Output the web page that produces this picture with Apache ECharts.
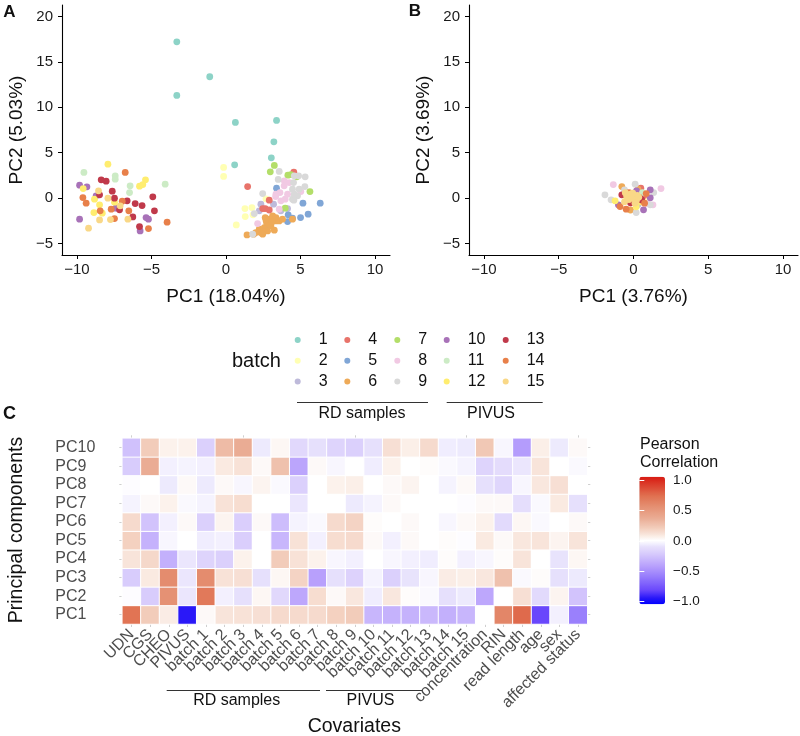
<!DOCTYPE html>
<html><head><meta charset="utf-8">
<script src="https://cdn.jsdelivr.net/npm/echarts@6/dist/echarts.min.js"></script>
<style>html,body{margin:0;padding:0;background:#fff}#c{width:800px;height:736px}</style>
</head><body><div id="c"></div>
<script>
// ---------- DATA ----------
const batches = ['1','2','3','4','5','6','7','8','9','10','11','12','13','14','15'];
const batchColors = ['#8DD3C7','#FFFFB3','#BEBADA','#E8736A','#80A6D6','#EEAA58','#B3DE69','#F1C9E3','#D9D9D9','#A872B8','#CCEBC5','#FFED6F','#C0394A','#E8804A','#F9D887'];
const xTickVals = [-10,-5,0,5,10];
const yTickVals = [-5,0,5,10,15,20];
// [PC1, PC2, batch]
const pcaA = [
 [-3.3,17.2,1],[-1.09,13.36,1],[-3.3,11.3,1],[0.63,8.33,1],[3.39,8.55,1],[3.21,6.2,1],[3.04,4.44,1],[0.58,3.67,1],
 [-0.16,3.38,2],[-0.16,2.39,2],[1.27,-1.14,2],[1.74,-1.03,2],[1.29,-2.02,2],[1.81,-1.83,2],[0.69,-2.94,2],[2.68,-0.07,2],
 [2.34,-0.66,3],[3.19,-0.66,3],[2.23,-1.39,3],[4.13,-1.14,3],[3.68,-1.39,3],[2.63,-3.23,3],
 [1.45,1.28,4],[4.55,2.86,4],[2.9,-0.22,4],[2.46,-1.14,4],[2.63,-1.14,4],[2.9,-1.3,4],
 [6.32,-0.55,5],[5.16,-0.55,5],[5.51,-1.76,5],[5.0,-2.13,5],[4.13,-2.57,5],[3.39,1.1,5],[4.46,-2.2,5],[4.17,-1.83,5],[2.68,-3.3,5],
 [1.41,-4.04,6],[1.85,-3.96,6],[2.32,-3.78,6],[2.57,-3.23,6],[2.72,-2.68,6],[2.9,-2.31,6],[3.13,-1.94,6],[3.35,-2.5,6],[3.57,-2.5,6],[3.24,-3.52,6],[3.79,-2.31,6],[2.63,-2.13,6],[2.23,-3.41,6],[2.79,-3.6,6],[3.01,-3.05,6],[2.5,-3.67,6],[2.0,-3.78,6],[2.46,-3.96,6],[3.35,-2.13,6],[2.9,-2.86,6],[4.46,-2.31,6],[2.68,-2.39,6],[3.1,-2.6,6],
 [3.24,3.6,7],[2.97,2.9,7],[4.15,2.53,7],[4.75,2.35,7],[5.63,0.73,7],[3.97,-1.1,7],[4.35,2.6,7],
 [3.91,1.91,8],[3.62,0.62,8],[3.35,0.44,8],[3.97,-0.11,8],[4.13,0.44,8],[3.68,-0.29,8],[4.24,1.72,8],[2.12,-2.79,8],[3.57,-1.21,8],[5.02,0.73,8],[3.9,1.36,8],[3.33,0.18,8],
 [3.57,2.94,9],[3.5,2.06,9],[2.46,0.51,9],[4.58,2.46,9],[4.87,2.46,9],[5.31,2.35,9],[5.29,1.28,9],[4.46,0.99,9],[4.58,0.44,9],[4.46,-0.11,9],[4.8,0.26,9],[4.55,-0.22,9],[1.9,-1.69,9],[1.79,-3.96,9],[4.53,1.72,9],[4.91,0.99,9],
 [-9.82,1.43,10],[-9.33,1.25,10],[-9.82,-2.31,10],[-8.71,0.26,10],[-5.36,-2.13,10],[-5.2,-2.31,10],[-5.76,-3.6,10],[-7.4,-1.1,10],
 [-9.53,2.83,11],[-7.43,2.46,11],[-7.43,2.09,11],[-6.43,1.36,11],[-4.08,1.54,11],[-6.47,0.62,11],
 [-7.92,3.74,12],[-9.58,1.06,12],[-8.82,-0.11,12],[-8.48,-0.73,12],[-8.86,-1.58,12],[-7.48,-0.44,12],[-5.8,1.32,12],[-5.58,1.5,12],[-5.4,2.02,12],[-8.3,-1.65,12],
 [-8.37,2.02,13],[-8.04,1.87,13],[-7.63,0.77,13],[-7.48,0.0,13],[-8.48,0.37,13],[-6.63,-0.29,13],[-6.09,-0.59,13],[-5.63,-0.81,13],[-4.91,0.15,13],[-4.8,-1.39,13],[-5.8,-3.12,13],[-6.25,-2.06,13],[-7.14,-1.28,13],
 [-9.6,0.07,14],[-9.38,-0.55,14],[-8.44,-1.39,14],[-7.48,-2.24,14],[-6.96,-0.33,14],[-7.7,-1.21,14],[-6.52,-1.39,14],[-5.2,-3.34,14],[-3.95,-2.64,14],[-6.76,2.83,14],
 [-9.22,-3.3,15],[-8.48,-2.39,15],[-7.75,-2.35,15],[-6.58,-2.31,15],[-8.55,0.81,15],[-7.92,0.0,15],[-7.1,-0.84,15]
];
const pcaB = [
 [-1.35,1.5,8],[1.84,1.06,8],[1.3,-0.73,8],[0.9,-0.6,8],
 [0.11,1.54,9],[-1.91,0.37,9],[-1.5,-0.18,9],[0.18,-1.58,9],[1.35,0.62,9],[1.12,-0.73,9],[-0.6,0.9,9],
 [-0.78,1.28,6],[-0.2,-1.3,6],[0.3,1.0,6],
 [0.49,1.1,4],[0.7,0.3,4],
 [1.12,0.92,10],[1.12,0.04,10],[0.67,-1.28,10],[-1.01,-0.73,10],[0.2,0.8,10],
 [0.85,0.51,14],[0.74,-0.55,14],[-0.9,-0.92,14],[-0.49,-1.21,14],[-0.3,0.6,14],
 [0.18,-0.95,12],[-1.23,-0.29,12],[0.5,-0.4,12],
 [0.4,0.07,13],[-0.78,0.37,13],[0.55,-0.2,13],[-0.2,-0.5,13],
 [-0.5,0.1,2],[0.9,-0.2,2],
 [-0.3,0.3,3],[0.3,-0.7,3],
 [-0.1,-0.3,11],[0.6,0.6,11],
 [-0.45,0.2,15],[-0.2,0.45,15],[0.0,0.05,15],[0.25,0.3,15],[-0.3,-0.15,15],[0.2,-0.2,15],[-0.05,0.55,15],[0.35,0.1,15],[-0.6,-0.4,15],[0.1,-0.55,15],[-0.55,0.6,15]
];
const covariates = ['UDN','CGS','CHEO','PIVUS','batch 1','batch 2','batch 3','batch 4','batch 5','batch 6','batch 7','batch 8','batch 9','batch 10','batch 11','batch 12','batch 13','batch 14','batch 15','concentration','RIN','read length','age','sex','affected status'];
const pcs = ['PC1','PC2','PC3','PC4','PC5','PC6','PC7','PC8','PC9','PC10'];
const pc1  = [0.68,0.2,0.07,-0.9,0.02,0.1,0.11,0.12,0.14,0.14,0.14,0.18,0.2,-0.3,-0.32,-0.32,-0.29,-0.33,-0.3,0,0.58,0.72,-0.78,-0.05,-0.55];
const pc2  = [-0.01,-0.2,0.52,-0.08,0.65,-0.05,-0.1,0.03,-0.14,-0.37,0.13,0.02,0.09,-0.06,0.09,0.01,-0.02,-0.1,-0.07,-0.37,0,0.12,-0.13,0.04,-0.24];
const pc3  = [-0.2,0.08,0.55,-0.08,0.55,0.11,0.12,-0.1,0.03,0.17,-0.4,-0.1,-0.17,-0.04,-0.18,-0.09,-0.03,0.07,0.06,0.09,0.25,-0.02,0.01,-0.1,-0.07];
const pc4  = [0.1,0.15,-0.33,-0.08,-0.16,-0.18,0.05,0,0.2,0.11,0.05,-0.03,-0.05,0,-0.03,-0.05,-0.06,0.01,-0.05,-0.03,0.01,0.1,0,-0.09,0.03];
const pc5  = [0.18,-0.32,-0.03,0,-0.06,-0.05,-0.19,0,-0.3,0.11,-0.05,0.13,0.14,0.02,-0.05,0.02,0,0.01,-0.01,0.08,0.02,0.09,0.1,0.04,0.1];
const pc6  = [0.14,-0.24,-0.05,0.02,-0.18,0.04,-0.19,0.02,-0.27,-0.04,-0.02,0.14,0.17,0.01,0,0.02,0,-0.03,0.02,0.05,-0.13,0.03,-0.02,0,0.02];
const pc7  = [-0.04,0.02,0.05,-0.02,-0.04,0.11,0.13,0,0,-0.08,0,0,-0.07,-0.04,0.02,0,0,0,-0.01,0.02,0.02,-0.11,-0.02,0.08,-0.1];
const pc8  = [-0.01,0,-0.07,0.02,-0.07,0.02,-0.03,0.04,-0.02,-0.18,0,0.05,0.06,0,0.02,0.04,0,-0.04,0.02,-0.1,-0.15,-0.03,0.09,0.12,0];
const pc9  = [-0.2,0.35,-0.05,-0.04,-0.05,0.08,0.11,0.02,0.25,-0.38,0.02,-0.03,0,-0.06,0.05,0,0.01,-0.02,-0.04,-0.16,-0.12,-0.08,0.1,0,-0.02];
const pc10 = [-0.25,0.2,0.05,0.05,-0.18,0.28,0.35,-0.07,0.03,-0.14,-0.1,-0.16,-0.18,-0.1,0.12,0.06,0.14,-0.06,-0.07,0.22,-0.03,-0.42,0.06,-0.07,0.02];

// ---------- STYLE HELPERS ----------
const FONT = 'Liberation Sans, Arial, Helvetica, sans-serif';
const minus = v => (v < 0 ? '\u2212' + Math.abs(v) : String(v));
const colorStops = [[-1,'#0000FF'],[-0.9,'#2A18F8'],[-0.78,'#6A48FC'],[-0.55,'#9A80FC'],[-0.4,'#B8A0FC'],[-0.2,'#D8CCFC'],[-0.1,'#E6E0FC'],[0,'#FFFFFF'],[0.1,'#F8E4DA'],[0.2,'#F2CCBA'],[0.35,'#EAAC94'],[0.55,'#E48C6E'],[0.7,'#E07050'],[1,'#D81A12']];
function h2r(h){return [parseInt(h.slice(1,3),16),parseInt(h.slice(3,5),16),parseInt(h.slice(5,7),16)];}
function colAt(v){
  for(let i=0;i<colorStops.length-1;i++){
    const [a,ca]=colorStops[i],[b,cb]=colorStops[i+1];
    if(v>=a-1e-9&&v<=b+1e-9){const t=(v-a)/(b-a),A=h2r(ca),B=h2r(cb);
      return 'rgb('+A.map((x,k)=>Math.round(x+(B[k]-x)*t)).join(',')+')';}
  }
  return colorStops[colorStops.length-1][1];
}
const gradient=[];for(let i=0;i<=80;i++)gradient.push(colAt(-1+i*0.025));

const rows=[pc1,pc2,pc3,pc4,pc5,pc6,pc7,pc8,pc9,pc10];
const heatData=[];rows.forEach((r,ri)=>r.forEach((v,ci)=>heatData.push([ci,ri,v])));

const chart = echarts.init(document.getElementById('c'), null, {renderer:'canvas'});

function xAx(gi,name){
  return {type:'value',gridIndex:gi,min:-11,max:11,name:name,nameLocation:'middle',nameGap:32,
    nameTextStyle:{fontFamily:FONT,fontSize:19,color:'#111'},
    axisLine:{show:true,onZero:false,lineStyle:{color:'#000',width:1.1}},
    axisTick:{show:true,length:4,customValues:xTickVals,lineStyle:{color:'#000'}},
    axisLabel:{customValues:xTickVals,formatter:minus,fontFamily:FONT,fontSize:15,color:'#1a1a1a',margin:7},
    splitLine:{show:false}};
}
function yAx(gi,name){
  return {type:'value',gridIndex:gi,min:-6.25,max:21.25,name:name,nameLocation:'middle',nameGap:36,
    nameTextStyle:{fontFamily:FONT,fontSize:19,color:'#111'},
    axisLine:{show:true,onZero:false,lineStyle:{color:'#000',width:1.1}},
    axisTick:{show:true,length:4,customValues:yTickVals,lineStyle:{color:'#000'}},
    axisLabel:{customValues:yTickVals,formatter:minus,fontFamily:FONT,fontSize:15,color:'#1a1a1a',margin:9},
    splitLine:{show:false}};
}

const series=[];
[pcaA,pcaB].forEach((arr,p)=>{
  batches.forEach((b,bi)=>{
    series.push({type:'scatter',name:b,xAxisIndex:p,yAxisIndex:p,symbolSize:6.8,
      itemStyle:{color:batchColors[bi],opacity:1},
      emphasis:{disabled:true},
      data:arr.filter(d=>d[2]===bi+1).map(d=>[d[0],d[1]])});
  });
});
series.push({type:'heatmap',xAxisIndex:2,yAxisIndex:2,data:heatData,
  itemStyle:{borderColor:'#fff',borderWidth:1},emphasis:{disabled:true}});
const heatIdx = series.length-1;

const legendCols=[297.7,347.3,397.3,446.7,505.7];
const legends=legendCols.map((cx,i)=>({
  orient:'vertical',left:cx-3,top:332,padding:0,itemGap:4.8,itemWidth:6,itemHeight:6,
  icon:'circle',selectedMode:false,data:batches.slice(i*3,i*3+3),
  textStyle:{fontFamily:FONT,fontSize:16,color:'#111',lineHeight:16,padding:[0,0,0,13]}
}));

const lineStyle={stroke:'#333',lineWidth:1};
function txt(x,y,text,size,opt){
  return {type:'text',x:x,y:y,style:Object.assign({text:text,fontSize:size,fontFamily:FONT,fill:'#111',align:'center',verticalAlign:'middle'},opt||{})};
}

chart.setOption({
  animation:false,
  backgroundColor:'#fff',
  grid:[
    {left:62,top:5,width:328,height:250,outerBoundsMode:'none'},
    {left:469,top:5,width:329,height:250,outerBoundsMode:'none'},
    {left:122.3,top:438.3,width:465,height:185.7,outerBoundsMode:'none'},
    {left:639.3,top:480,width:25.7,height:121.7,outerBoundsMode:'none'}
  ],
  xAxis:[
    xAx(0,'PC1 (18.04%)'), xAx(1,'PC1 (3.76%)'),
    {type:'category',gridIndex:2,data:covariates,position:'bottom',
      axisLine:{show:false},axisTick:{show:true,alignWithLabel:true,length:3,lineStyle:{color:'#cfcfcf'}},
      axisLabel:{interval:0,rotate:45,fontFamily:FONT,fontSize:16,color:'#4D4D4D',margin:8},splitLine:{show:false}},
    {type:'value',gridIndex:3,show:false,min:0,max:1},
    {type:'category',gridIndex:2,data:covariates,position:'top',
      axisLine:{show:false},axisTick:{show:true,alignWithLabel:true,length:3,lineStyle:{color:'#cfcfcf'}},
      axisLabel:{show:false},splitLine:{show:false}}
  ],
  yAxis:[
    yAx(0,'PC2 (5.03%)'), yAx(1,'PC2 (3.69%)'),
    {type:'category',gridIndex:2,data:pcs,
      axisLine:{show:false},axisTick:{show:true,alignWithLabel:true,length:3,lineStyle:{color:'#cfcfcf'}},
      axisLabel:{interval:0,fontFamily:FONT,fontSize:16,color:'#4D4D4D',align:'left',margin:67},splitLine:{show:false}},
    {type:'value',gridIndex:3,min:-1,max:1,interval:0.5,position:'right',z:10,
      axisLine:{show:false},axisTick:{show:true,inside:true,length:5,lineStyle:{color:'#fff',width:1}},
      axisLabel:{fontFamily:FONT,fontSize:13.5,color:'#1a1a1a',margin:8,formatter:v=>(v<0?'\u2212':'')+Math.abs(v).toFixed(1)},
      splitLine:{show:false}},
    {type:'value',gridIndex:3,min:-1,max:1,interval:0.5,position:'left',z:10,
      axisLine:{show:false},axisTick:{show:true,inside:true,length:5,lineStyle:{color:'#fff',width:1}},
      axisLabel:{show:false},splitLine:{show:false}},
    {type:'category',gridIndex:2,data:pcs,position:'right',
      axisLine:{show:false},axisTick:{show:true,alignWithLabel:true,length:3,lineStyle:{color:'#cfcfcf'}},
      axisLabel:{show:false},splitLine:{show:false}}
  ],
  visualMap:[{type:'continuous',min:-1,max:1,dimension:2,seriesIndex:heatIdx,calculable:false,
    orient:'vertical',left:639.3,top:476.7,itemWidth:25.7,itemHeight:127.6,padding:0,
    inRange:{color:gradient},text:null,showLabel:false,hoverLink:false,z:4}],
  legend:legends,
  series:series,
  graphic:[
    txt(9.5,12.5,'A',17,{fontWeight:'bold'}),
    txt(415,11,'B',17,{fontWeight:'bold'}),
    txt(9.5,414.5,'C',18,{fontWeight:'bold'}),
    txt(232,361,'batch',20,{align:'left'}),
    {type:'line',shape:{x1:297,y1:402.5,x2:428,y2:402.5},style:lineStyle},
    {type:'line',shape:{x1:446.7,y1:402.5,x2:542.7,y2:402.5},style:lineStyle},
    txt(362,414,'RD samples',16),
    txt(491,414,'PIVUS',16),
    {type:'line',shape:{x1:166.7,y1:690.5,x2:320,y2:690.5},style:lineStyle},
    {type:'line',shape:{x1:326,y1:690.5,x2:422.7,y2:690.5},style:lineStyle},
    txt(236.7,701,'RD samples',16),
    txt(370.5,701,'PIVUS',16),
    txt(354.3,727,'Covariates',19.5),
    {type:'text',x:17,y:530,rotation:Math.PI/2,style:{text:'Principal components',fontSize:19.5,fontFamily:FONT,fill:'#111',align:'center',verticalAlign:'middle'}},
    {type:'text',x:640,y:436,style:{text:'Pearson\nCorrelation',fontSize:16,fontFamily:FONT,fill:'#111',align:'left',verticalAlign:'top',lineHeight:17.5}}
  ]
});
</script></body></html>
